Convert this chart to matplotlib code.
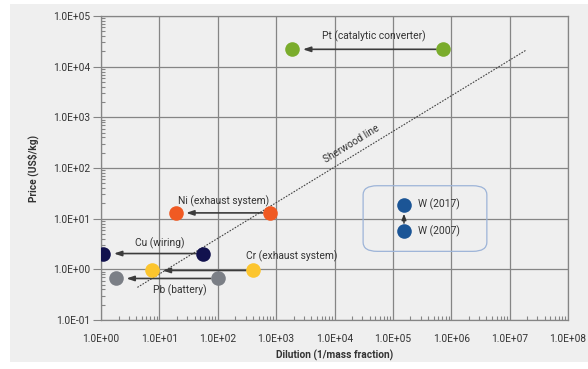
import numpy as np
import matplotlib
matplotlib.use("Agg")
import matplotlib.pyplot as plt
from matplotlib.patches import FancyBboxPatch, Rectangle

plt.rcParams['font.family'] = ['Roboto', 'DejaVu Sans']

# metal price vs dilution, old (right) -> new (left)
metals = ["Pt", "Ni", "Cu", "Cr", "Pb"]
labels = ["Pt (catalytic converter)", "Ni (exhaust system)", "Cu (wiring)",
          "Cr (exhaust system)", "Pb (battery)"]
dil_from = [7.2e5, 780, 56, 400, 100]
dil_to = [1.9e3, 19, 1.1, 7.5, 1.8]
price = [2.2e4, 13.0, 2.05, 0.95, 0.66]
colors = ["#7aac2c", "#f05a23", "#12124e", "#fcc52e", "#7b7f86"]

# tungsten, price change at fixed dilution
w_dil = 1.55e5
w_price_2007 = 5.6
w_price_2017 = 19.0

# Sherwood line end points
sher_x = [4.2, 1.95e7]
sher_y = [0.44, 2.15e4]

xticks = [10.0 ** k for k in range(0, 9)]
yticks = [10.0 ** k for k in range(-1, 6)]

fig = plt.figure(figsize=(5.88, 3.69), dpi=100)
fig.patches.append(Rectangle((10 / 588, 1 - 362 / 369), 578 / 588, 358 / 369,
                             transform=fig.transFigure, facecolor="#efefef",
                             edgecolor="none", zorder=-10))
ax = fig.add_axes([101 / 588, 1 - 320 / 369, 467 / 588, 304 / 369])
ax.set_facecolor("#efefef")
ax.set_xscale("log")
ax.set_yscale("log")
ax.set_xlim(1, 1e8)
ax.set_ylim(0.1, 1e5)

ax.set_xticks(xticks)
ax.set_yticks(yticks)
ax.set_xticklabels(["%.1E" % v for v in xticks])
ax.set_yticklabels(["%.1E" % v for v in yticks])
ax.grid(True, which="major", color="#858585", linewidth=0.9)
ax.set_axisbelow(True)
for s in ax.spines.values():
    s.set_color("#858585")
    s.set_linewidth(0.9)
ax.tick_params(axis="both", which="major", labelsize=7.3, colors="#858585",
               labelcolor="#333333", length=0, pad=10)
ax.tick_params(axis="y", which="major", length=6, direction="out", pad=2)
ax.tick_params(axis="both", which="minor", direction="in", length=3,
               color="#858585", width=0.8)
ax.xaxis.set_minor_locator(matplotlib.ticker.LogLocator(base=10, subs=np.arange(2, 10), numticks=20))
ax.yaxis.set_minor_locator(matplotlib.ticker.LogLocator(base=10, subs=np.arange(2, 10), numticks=20))
ax.xaxis.set_minor_formatter(matplotlib.ticker.NullFormatter())
ax.yaxis.set_minor_formatter(matplotlib.ticker.NullFormatter())

ax.set_xlabel("Dilution (1/mass fraction)", fontsize=7.3, fontweight="bold",
              color="#333333", labelpad=4)
ax.set_ylabel("Price (US$/kg)", fontsize=7.3, fontweight="bold",
              color="#333333", labelpad=10)

# Sherwood line
ax.plot(sher_x, sher_y, linestyle=(0, (1.5, 1.2)), color="#444444", linewidth=0.8, zorder=2)
ang = np.degrees(np.arctan2((np.log10(sher_y[1]) - np.log10(sher_y[0])) / 6 * 304,
                            (np.log10(sher_x[1]) - np.log10(sher_x[0])) / 8 * 467))
ax.text(2.2e4, 250, "Sherwood line", fontsize=7.2, color="#333333", rotation=ang,
        rotation_mode="anchor", ha="center", va="bottom")

msize = 10.5
for i in range(len(metals)):
    ax.annotate("", xy=(dil_to[i], price[i]), xytext=(dil_from[i], price[i]),
                arrowprops=dict(arrowstyle="-|>,head_length=0.45,head_width=0.15",
                                color="#3c3c3c", lw=1.2, shrinkA=5, shrinkB=7.5),
                zorder=3)
    ax.plot([dil_from[i], dil_to[i]], [price[i], price[i]], "o", color=colors[i],
            markersize=msize, markeredgewidth=0, zorder=4)

lab_pos = [(4.7e4, 4.0e4, "center"), (1.26e2, 22.5, "center"), (10.2, 3.25, "center"),
           (3.1e2, 1.8, "left"), (22.5, 0.39, "center")]
for i in range(len(metals)):
    x, y, ha = lab_pos[i]
    ax.text(x, y, labels[i], fontsize=7.4, color="#333333", ha=ha, va="center")

# tungsten box
ax.add_patch(FancyBboxPatch((4.49 / 8, 1.355 / 6), 2.12 / 8, 1.295 / 6,
                            boxstyle="round,pad=0,rounding_size=0.03",
                            transform=ax.transAxes, facecolor="none",
                            edgecolor="#9db4d8", linewidth=0.9, zorder=3))
ax.annotate("", xy=(w_dil, w_price_2017), xytext=(w_dil, w_price_2007),
            arrowprops=dict(arrowstyle="-|>,head_length=0.35,head_width=0.13",
                            color="#333333", lw=1.1, shrinkA=6, shrinkB=6.5),
            zorder=3)
ax.plot([w_dil, w_dil], [w_price_2007, w_price_2017], "o", color="#1b5596",
        markersize=msize, markeredgewidth=0, zorder=4)
ax.text(w_dil * 1.74, w_price_2017, "W (2017)", fontsize=7.4, color="#333333", va="center")
ax.text(w_dil * 1.74, w_price_2007, "W (2007)", fontsize=7.4, color="#333333", va="center")

fig.savefig("out.png", dpi=100)
